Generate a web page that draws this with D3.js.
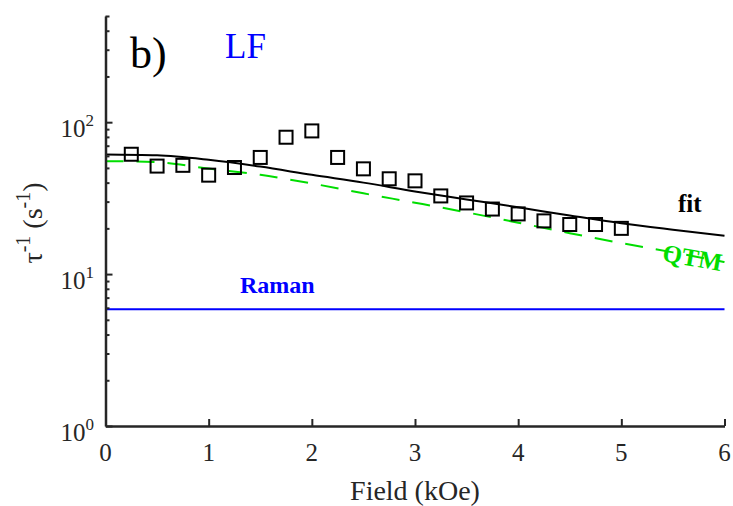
<!DOCTYPE html>
<html>
<head>
<meta charset="utf-8">
<script src="https://cdn.jsdelivr.net/npm/d3@7"></script>
<style>
  body { margin: 0; background: #fff; }
  text { font-family: "Liberation Serif", "Times New Roman", serif; }
</style>
</head>
<body>
<svg id="chart" width="733" height="506"></svg>
<script>
// measured points (field in kOe, rate in s^-1)
const fieldPts = [0.25, 0.5, 0.75, 1.0, 1.25, 1.5, 1.75, 2.0, 2.25, 2.5, 2.75, 3.0,
                  3.25, 3.5, 3.75, 4.0, 4.25, 4.5, 4.75, 5.0];
const ratePts = [61.5, 51.4, 52, 44.8, 50.3, 58.6, 79.6, 87.6, 58.6, 49.3, 42.4, 41.1,
                 32.7, 29.4, 26.8, 24.9, 22.4, 21.2, 21.2, 20.0];

// fit curve and QTM component
const curveField = [0, 0.5, 1, 1.5, 2, 2.5, 3, 3.5, 4, 4.5, 5, 5.5, 6];
const fitRate = [61.3, 60.5, 56.5, 51, 45, 40, 35, 31, 27.5, 24.3, 21.6, 19.6, 17.9];
const qtmRate = [55.4, 54.5, 49.5, 45, 39.5, 34, 29.5, 25.5, 21.8, 18.6, 16, 13.9, 12.0];

// Raman is flat
const ramanField = [0, 6];
const ramanRate = [5.86, 5.86];

const xTicks = [0, 1, 2, 3, 4, 5, 6];
const yDecades = [0, 1, 2];

const svg = d3.select("#chart");
const mLeft = 105.5, mRight = 724.5, mTop = 16, mBottom = 426;

const x = d3.scaleLinear().domain([0, 6]).range([mLeft, mRight]);
const y = d3.scaleLog().domain([1, 500]).range([mBottom, mTop]);

const axisColor = "#262626";
const green = "#00dd00";
const blue = "#0000ff";

// lines
const line = d3.line().x(d => x(d[0])).y(d => y(d[1]));

svg.append("path")
  .attr("d", line(ramanField.map((f, i) => [f, ramanRate[i]])))
  .attr("fill", "none").attr("stroke", blue).attr("stroke-width", 2);

const smooth = d3.line().x(d => x(d[0])).y(d => y(d[1])).curve(d3.curveMonotoneX);

svg.append("path")
  .attr("d", smooth(curveField.map((f, i) => [f, qtmRate[i]])))
  .attr("fill", "none").attr("stroke", green).attr("stroke-width", 2)
  .attr("stroke-dasharray", "18,13");

svg.append("path")
  .attr("d", smooth(curveField.map((f, i) => [f, fitRate[i]])))
  .attr("fill", "none").attr("stroke", "#000").attr("stroke-width", 2);

// square markers
const sq = 13;
svg.append("g").selectAll("rect")
  .data(fieldPts.map((f, i) => [f, ratePts[i]]))
  .join("rect")
  .attr("x", d => x(d[0]) - sq / 2)
  .attr("y", d => y(d[1]) - sq / 2)
  .attr("width", sq).attr("height", sq)
  .attr("fill", "none").attr("stroke", "#000").attr("stroke-width", 2);

// axes (ticks inside, like matlab)
const xAxis = svg.append("g").attr("transform", `translate(0,${mBottom})`)
  .call(d3.axisBottom(x).tickValues(xTicks).tickSizeInner(-7).tickSizeOuter(0).tickFormat(""));
xAxis.select(".domain").attr("stroke", axisColor).attr("stroke-width", 2.5);
xAxis.selectAll(".tick line").attr("stroke", axisColor).attr("stroke-width", 2);

const minor = [];
yDecades.forEach(k => {
  for (let m = 2; m <= 9; m++) {
    const v = m * Math.pow(10, k);
    if (v <= 500) minor.push(v);
  }
});

const yAxis = svg.append("g").attr("transform", `translate(${mLeft},0)`)
  .call(d3.axisLeft(y).tickValues(yDecades.map(k => Math.pow(10, k))).tickSizeInner(-7).tickSizeOuter(0).tickFormat(""));
yAxis.select(".domain").attr("stroke", axisColor).attr("stroke-width", 2.5);
yAxis.selectAll(".tick line").attr("stroke", axisColor).attr("stroke-width", 2);

svg.append("g").attr("transform", `translate(${mLeft},0)`)
  .call(d3.axisLeft(y).tickValues(minor).tickSizeInner(-4).tickSizeOuter(0).tickFormat(""))
  .call(g => g.select(".domain").remove())
  .selectAll(".tick line").attr("stroke", axisColor).attr("stroke-width", 2);

// tick labels
svg.append("g").selectAll("text")
  .data(xTicks)
  .join("text")
  .attr("x", d => x(d)).attr("y", 461)
  .attr("text-anchor", "middle").attr("font-size", 25).attr("fill", axisColor)
  .text(d => d);

const yl = svg.append("g").selectAll("text")
  .data(yDecades)
  .join("text")
  .attr("x", 94).attr("y", d => y(Math.pow(10, d)) + 15)
  .attr("text-anchor", "end").attr("font-size", 25).attr("fill", axisColor);
yl.append("tspan").text("10");
yl.append("tspan").attr("font-size", 17).attr("dy", -11).text(d => d);

// axis titles
svg.append("text")
  .attr("x", (mLeft + mRight) / 2).attr("y", 500)
  .attr("text-anchor", "middle").attr("font-size", 28).attr("fill", axisColor)
  .text("Field (kOe)");

const yt = svg.append("text")
  .attr("transform", "translate(42,223) rotate(-90)")
  .attr("text-anchor", "middle").attr("font-size", 28).attr("fill", axisColor);
yt.append("tspan").text("τ");
yt.append("tspan").attr("font-size", 20).attr("dy", -12).text("-1");
yt.append("tspan").attr("dy", 12).text(" (s");
yt.append("tspan").attr("font-size", 20).attr("dy", -12).text("-1");
yt.append("tspan").attr("dy", 12).text(")");

// annotations
svg.append("text").attr("x", 130).attr("y", 68)
  .attr("font-size", 44).attr("fill", "#000").text("b)");
svg.append("text").attr("x", 225).attr("y", 58)
  .attr("font-size", 35).attr("fill", blue).text("LF");
svg.append("text").attr("x", 240).attr("y", 293)
  .attr("font-size", 24).attr("font-weight", "bold").attr("fill", blue).text("Raman");
svg.append("text").attr("x", 678).attr("y", 212)
  .attr("font-size", 25).attr("font-weight", "bold").attr("fill", "#000").text("fit");
svg.append("text")
  .attr("transform", "translate(691,266) rotate(10)")
  .attr("text-anchor", "middle")
  .attr("font-size", 25).attr("font-weight", "bold").attr("fill", green).text("QTM");
</script>
</body>
</html>
